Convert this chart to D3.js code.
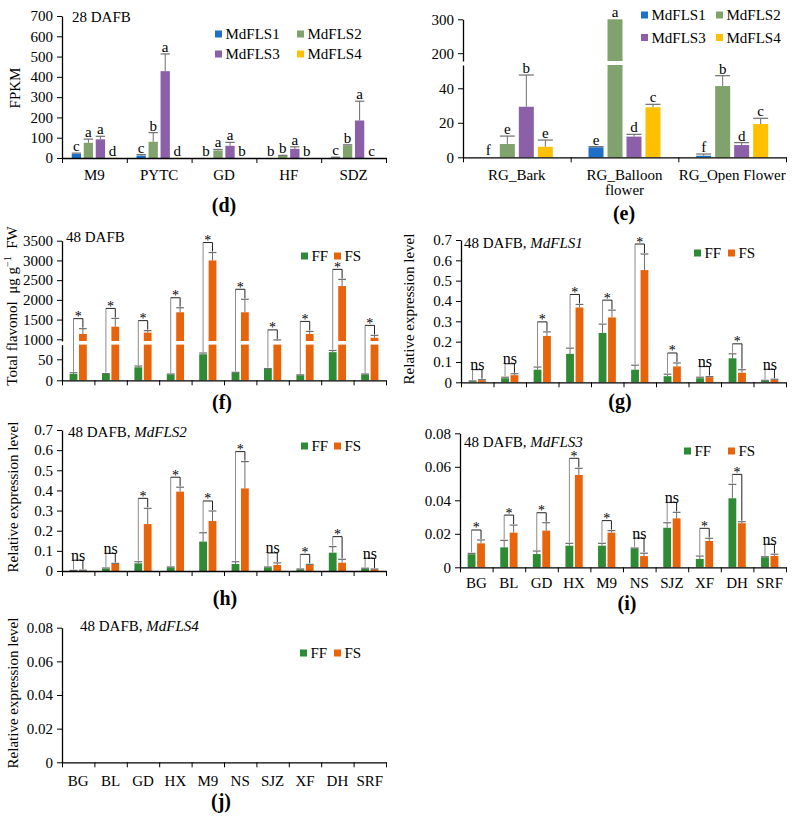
<!DOCTYPE html>
<html>
<head>
<meta charset="utf-8">
<script src="https://cdn.jsdelivr.net/npm/d3@7"></script>
<style>
  body { margin: 0; background: #fff; }
  text { white-space: pre; }
</style>
</head>
<body>
<div id="canvas"></div>
<script>
"use strict"

/* Configuration variables: drawing */
let svgWidth = 793;
let svgHeight = 817;
let font = "'Liberation Serif', 'Times New Roman', serif";

/* ---------- Data ---------- */
let flsNames = ["MdFLS1", "MdFLS2", "MdFLS3", "MdFLS4"];
let flsColors = ["#1e6fc8", "#80a26c", "#8b60a8", "#ffc000"];
let fruitKeys = ["FF", "FS"];
let fruitColors = ["#2e8a34", "#e8640c"];

/* (d) 28 DAFB, FPKM */
let dCats = ["M9", "PYTC", "GD", "HF", "SDZ"];
let dFLS1 = [20, 12, 0, 0, 3];
let dFLS2 = [75, 80, 37, 10, 62];
let dFLS3 = [92, 428, 60, 45, 185];
let dFLS4 = [1, 1, 0, 0, 0];
let dErr1 = [4, 5, 0, 0, 1];
let dErr2 = [18, 45, 5, 3, 3];
let dErr3 = [15, 85, 17, 10, 95];
let dErr4 = [0, 0, 0, 0, 0];
let dLet1 = ["c", "c", "b", "b", "c"];
let dLet2 = ["a", "b", "a", "b", "b"];
let dLet3 = ["a", "a", "a", "a", "a"];
let dLet4 = ["d", "d", "b", "b", "c"];
let dTicks = [0, 100, 200, 300, 400, 500, 600, 700];

/* (e) RG tissues, FPKM (broken axis) */
let eCats = ["RG_Bark", "RG_Balloon flower", "RG_Open Flower"];
let eFLS1 = [0, 5.8, 0.9];
let eFLS2 = [7.7, 300, 41.3];
let eFLS3 = [29.3, 12, 7.1];
let eFLS4 = [6.1, 29, 19.3];
let eErr1 = [0, 0.4, 1];
let eErr2 = [4.6, 0, 6];
let eErr3 = [18.4, 1.3, 1.4];
let eErr4 = [3.9, 1.7, 3.3];
let eLet1 = ["f", "e", "f"];
let eLet2 = ["e", "a", "b"];
let eLet3 = ["b", "d", "d"];
let eLet4 = ["e", "c", "c"];
let eTicks = [0, 20, 40, 200, 300];

/* 48 DAFB cultivars */
let cats10 = ["BG", "BL", "GD", "HX", "M9", "NS", "SJZ", "XF", "DH", "SRF"];

/* (f) total flavonol (broken axis) */
let fFF = [15, 15, 31, 14, 62, 18, 27, 12, 67, 14];
let fFFerr = [3, 1, 3, 1, 3, 1, 1, 1, 4, 1];
let fFS = [1135, 1320, 1170, 1685, 3000, 1685, 900, 1135, 2350, 1040];
let fFSerr = [135, 210, 50, 115, 200, 330, 85, 65, 170, 60];
let fSig = ["*", "*", "*", "*", "*", "*", "*", "*", "*", "*"];
let fTicks = [0, 50, 1000, 1500, 2000, 2500, 3000, 3500];

/* (g) MdFLS1 */
let gFF = [0.005, 0.02, 0.062, 0.14, 0.243, 0.062, 0.03, 0.02, 0.118, 0.008];
let gFFerr = [0.002, 0.005, 0.013, 0.028, 0.043, 0.022, 0.01, 0.005, 0.022, 0.002];
let gFS = [0.01, 0.035, 0.228, 0.368, 0.319, 0.552, 0.078, 0.025, 0.047, 0.012];
let gFSerr = [0.003, 0.007, 0.02, 0.015, 0.036, 0.079, 0.017, 0.003, 0.015, 0.003];
let gSig = ["ns", "ns", "*", "*", "*", "*", "*", "ns", "*", "ns"];

/* (h) MdFLS2 */
let hFF = [0.002, 0.012, 0.038, 0.018, 0.146, 0.035, 0.018, 0.008, 0.091, 0.012];
let hFFerr = [0.001, 0.003, 0.008, 0.002, 0.044, 0.011, 0.002, 0.002, 0.03, 0.002];
let hFS = [0.003, 0.035, 0.233, 0.394, 0.248, 0.41, 0.03, 0.03, 0.041, 0.008];
let hFSerr = [0.001, 0.003, 0.078, 0.022, 0.05, 0.133, 0.01, 0.003, 0.017, 0.002];
let hSig = ["ns", "ns", "*", "*", "*", "*", "ns", "*", "*", "ns"];
let relTicks1 = [0, 0.1, 0.2, 0.3, 0.4, 0.5, 0.6, 0.7];

/* (i) MdFLS3 */
let iFF = [0.0078, 0.0119, 0.0079, 0.0129, 0.0129, 0.0113, 0.0236, 0.005, 0.0412, 0.006];
let iFFerr = [0.0005, 0.0042, 0.0018, 0.0014, 0.0014, 0.0002, 0.003, 0.0017, 0.0083, 0.0003];
let iFS = [0.0143, 0.0207, 0.0219, 0.0551, 0.0207, 0.0067, 0.0292, 0.0157, 0.0263, 0.0068];
let iFSerr = [0.002, 0.0045, 0.0047, 0.004, 0.0012, 0.0017, 0.0036, 0.0016, 0.0009, 0.001];
let iSig = ["*", "*", "*", "*", "*", "ns", "ns", "*", "*", "ns"];
let relTicks2 = [0, 0.02, 0.04, 0.06, 0.08];

/* (j) MdFLS4: no expression detected, empty chart */
let jFF = [];
let jFS = [];

/* ---------- Canvas ---------- */
let svg = d3.select("#canvas")
    .append("svg")
    .attr("width", svgWidth)
    .attr("height", svgHeight)
    .attr("font-family", font);

svg.append("rect")
    .attr("width", svgWidth)
    .attr("height", svgHeight)
    .attr("fill", "white");

/* value -> pixel on a (possibly broken) axis made of segments */
function valY(segs, v) {
    let y = segs[0](0);
    segs.forEach(function (s) {
        let d = s.domain();
        if (v >= d[0]) y = s(Math.min(v, d[1]));
    });
    return y;
}

/* pixel pieces covering values a..b, one per segment */
function pieces(segs, a, b) {
    let out = [];
    segs.forEach(function (s) {
        let d = s.domain();
        let lo = Math.max(a, d[0]), hi = Math.min(b, d[1]);
        if (hi > lo) out.push([s(lo), s(hi)]);
    });
    return out;
}

function wrapLabels(sel, width) {
    sel.each(function () {
        let t = d3.select(this);
        let words = t.text().split(" ");
        if (this.getComputedTextLength() <= width) return;
        let lines = [], line = [];
        let node = this;
        words.forEach(function (w) {
            line.push(w);
            t.text(line.join(" "));
            if (node.getComputedTextLength() > width && line.length > 1) {
                line.pop();
                lines.push(line.join(" "));
                line = [w];
            }
        });
        lines.push(line.join(" "));
        let dy = t.attr("dy");
        t.text(null);
        lines.forEach(function (l, i) {
            t.append("tspan").attr("x", 0).attr("dy", i ? "1.0em" : dy).text(l);
        });
    });
}

/* Generic grouped bar panel */
function drawPanel(p) {
    let g = svg.append("g");
    let yBase = p.segs[0](0);

    let xBand = d3.scaleBand().domain(p.cats).range([p.x0, p.x1]);
    let xSub = d3.scaleBand().domain(p.keys)
        .range([0, xBand.bandwidth()])
        .paddingInner(p.padIn)
        .paddingOuter(p.padOut);
    let bw = xSub.bandwidth();

    let bars = [];
    p.series.forEach(function (s, si) {
        s.vals.forEach(function (v, ci) {
            bars.push({
                cat: p.cats[ci], ci: ci, key: p.keys[si],
                v: v, e: s.errs[ci], color: s.color,
                letter: s.letters ? s.letters[ci] : null
            });
        });
    });
    bars.forEach(function (b) {
        b.x = xBand(b.cat) + xSub(b.key);
        b.cx = b.x + bw / 2;
        b.top = valY(p.segs, b.v + b.e);
    });

    /* bars (split across axis break) */
    let rects = [];
    bars.forEach(function (b) {
        pieces(p.segs, 0, b.v).forEach(function (pc) {
            rects.push({x: b.x, y0: pc[0], y1: pc[1], color: b.color});
        });
    });
    g.selectAll("rect.bar")
        .data(rects)
        .join("rect")
        .attr("class", "bar")
        .attr("x", d => d.x)
        .attr("y", d => d.y1)
        .attr("width", bw)
        .attr("height", d => Math.max(0, d.y0 - d.y1))
        .attr("fill", d => d.color);

    /* error bars */
    let errColor = "#6e6e6e";
    bars.filter(b => b.e > 0).forEach(function (b) {
        pieces(p.segs, b.v, b.v + b.e).forEach(function (pc) {
            g.append("line")
                .attr("x1", b.cx).attr("x2", b.cx)
                .attr("y1", pc[0]).attr("y2", pc[1])
                .attr("stroke", errColor).attr("stroke-width", 1);
        });
        g.append("line")
            .attr("x1", b.x).attr("x2", b.x + bw)
            .attr("y1", b.top).attr("y2", b.top)
            .attr("stroke", errColor).attr("stroke-width", 1.2);
    });

    /* letters over bars */
    g.selectAll("text.letter")
        .data(bars.filter(b => b.letter))
        .join("text")
        .attr("class", "letter")
        .attr("x", d => d.cx)
        .attr("y", d => d.top - 2)
        .attr("text-anchor", "middle")
        .attr("font-size", 15)
        .attr("fill", "#000")
        .text(d => d.letter);

    /* significance brackets */
    if (p.sig) {
        p.cats.forEach(function (c, ci) {
            let a = bars.find(b => b.ci === ci && b.key === p.keys[0]);
            let b2 = bars.find(b => b.ci === ci && b.key === p.keys[1]);
            let top = Math.min(a.top, b2.top) - 10;
            g.append("path")
                .attr("d", `M${a.cx},${a.top - 1}V${top}`)
                .attr("fill", "none").attr("stroke", "#8c8c8c").attr("stroke-width", 1);
            g.append("path")
                .attr("d", `M${a.cx},${top}H${b2.cx}V${b2.top - 1}`)
                .attr("fill", "none").attr("stroke", "#222").attr("stroke-width", 1);
            let mid = (a.cx + b2.cx) / 2;
            if (p.sig[ci] === "ns") {
                g.append("text").attr("x", mid).attr("y", top + 0.5)
                    .attr("text-anchor", "middle").attr("font-size", 16)
                    .attr("fill", "#000").text("ns");
            } else {
                g.append("text").attr("x", mid).attr("y", top + 2.5)
                    .attr("text-anchor", "middle").attr("font-size", 14)
                    .attr("fill", "#000").text("*");
            }
        });
    }

    /* y axis (one piece per segment) */
    p.segs.forEach(function (s) {
        let d = s.domain();
        let ax = g.append("g")
            .attr("transform", `translate(${p.x0},0)`)
            .call(d3.axisLeft(s)
                .tickValues(p.ticks.filter(t => t >= d[0] - 1e-9 && t <= d[1] + 1e-9))
                .tickSize(5)
                .tickSizeOuter(0)
                .tickPadding(4)
                .tickFormat(p.fmt));
        ax.attr("font-family", font).attr("font-size", 15);
        ax.selectAll("text").attr("fill", "black");
        ax.selectAll("line").attr("stroke", "black");
        ax.select(".domain").attr("stroke", "black").attr("stroke-width", 1.3);
    });

    /* x axis: tick marks between categories */
    let xLin = d3.scaleLinear().domain([0, p.cats.length]).range([p.x0, p.x1]);
    let xa = g.append("g")
        .attr("transform", `translate(0,${yBase})`)
        .call(d3.axisBottom(xLin)
            .tickValues(d3.range(p.cats.length + 1))
            .tickSize(5)
            .tickSizeOuter(0)
            .tickFormat(""));
    xa.selectAll("line").attr("stroke", "black");
    xa.select(".domain").attr("stroke", "black").attr("stroke-width", 1.3);

    /* category labels */
    if (p.labPad !== undefined) {
        let xl = g.append("g")
            .attr("transform", `translate(0,${yBase})`)
            .call(d3.axisBottom(xBand).tickSize(0).tickPadding(p.labPad));
        xl.select(".domain").remove();
        xl.attr("font-family", font).attr("font-size", 15);
        xl.selectAll("text").attr("fill", "black").call(wrapLabels, 110);
    }
    return g;
}

function legendItem(x, y, color, label) {
    svg.append("rect")
        .attr("x", x).attr("y", y - 3.5)
        .attr("width", 7).attr("height", 7)
        .attr("fill", color);
    svg.append("text")
        .attr("x", x + 10.5).attr("y", y + 5)
        .attr("font-size", 15)
        .text(label);
}

function title(x, y, gene) {
    let t = svg.append("text").attr("x", x).attr("y", y).attr("font-size", 15);
    t.append("tspan").text(gene ? "48 DAFB, " : "48 DAFB");
    if (gene) t.append("tspan").attr("font-style", "italic").text(gene);
}

function yTitle(x, y, label) {
    return svg.append("text")
        .attr("transform", `translate(${x},${y}) rotate(-90)`)
        .attr("text-anchor", "middle")
        .attr("dominant-baseline", "central")
        .attr("font-size", 15)
        .text(label);
}

function panelLetter(x, y, s) {
    svg.append("text")
        .attr("x", x).attr("y", y)
        .attr("text-anchor", "middle")
        .attr("font-size", 20)
        .attr("font-weight", "bold")
        .text(s);
}

let fmtInt = d3.format("d");
let fmt1 = v => v === 0 ? "0" : d3.format(".1f")(v);
let fmt2 = v => v === 0 ? "0" : d3.format(".2f")(v);

/* ---------- (d) ---------- */
drawPanel({
    x0: 62, x1: 386,
    segs: [d3.scaleLinear().domain([0, 700]).range([158, 16])],
    cats: dCats, keys: flsNames,
    series: [
        {vals: dFLS1, errs: dErr1, letters: dLet1, color: flsColors[0]},
        {vals: dFLS2, errs: dErr2, letters: dLet2, color: flsColors[1]},
        {vals: dFLS3, errs: dErr3, letters: dLet3, color: flsColors[2]},
        {vals: dFLS4, errs: dErr4, letters: dLet4, color: flsColors[3]}
    ],
    padIn: 0.225, padOut: 0.81,
    ticks: dTicks, fmt: fmtInt, labPad: 11
});
svg.append("text").attr("x", 72).attr("y", 22).attr("font-size", 15).text("28 DAFB");
yTitle(15, 88, "FPKM");
legendItem(215, 34, flsColors[0], flsNames[0]);
legendItem(297, 34, flsColors[1], flsNames[1]);
legendItem(215, 54, flsColors[2], flsNames[2]);
legendItem(297, 54, flsColors[3], flsNames[3]);
panelLetter(224, 212, "(d)");

/* ---------- (e) ---------- */
drawPanel({
    x0: 463, x1: 786,
    segs: [d3.scaleLinear().domain([0, 53.5]).range([157.3, 65]),
           d3.scaleLinear().domain([177, 300]).range([61, 19.3])],
    cats: eCats, keys: flsNames,
    series: [
        {vals: eFLS1, errs: eErr1, letters: eLet1, color: flsColors[0]},
        {vals: eFLS2, errs: eErr2, letters: eLet2, color: flsColors[1]},
        {vals: eFLS3, errs: eErr3, letters: eLet3, color: flsColors[2]},
        {vals: eFLS4, errs: eErr4, letters: eLet4, color: flsColors[3]}
    ],
    padIn: 0.21, padOut: 0.94,
    ticks: eTicks, fmt: fmtInt, labPad: 12
});
legendItem(641, 15, flsColors[0], flsNames[0]);
legendItem(716, 15, flsColors[1], flsNames[1]);
legendItem(641, 37.5, flsColors[2], flsNames[2]);
legendItem(716, 37.5, flsColors[3], flsNames[3]);
panelLetter(624, 220, "(e)");

/* ---------- (f) ---------- */
drawPanel({
    x0: 62, x1: 386,
    segs: [d3.scaleLinear().domain([0, 85]).range([380.3, 344.6]),
           d3.scaleLinear().domain([957, 3500]).range([341, 240.7])],
    cats: cats10, keys: fruitKeys,
    series: [
        {vals: fFF, errs: fFFerr, color: fruitColors[0]},
        {vals: fFS, errs: fFSerr, color: fruitColors[1]}
    ],
    sig: fSig,
    padIn: 0.17, padOut: 0.81,
    ticks: fTicks, fmt: fmtInt
});
title(66, 242, null);
let fy = svg.append("text")
    .attr("transform", "translate(12,306) rotate(-90)")
    .attr("text-anchor", "middle")
    .attr("dominant-baseline", "central")
    .attr("font-size", 15);
fy.append("tspan").text("Total flavonol  μg g");
fy.append("tspan").attr("font-size", 10).attr("dy", -5).text("−1");
fy.append("tspan").attr("dy", 5).text("  FW");
legendItem(301, 256, fruitColors[0], "FF");
legendItem(334, 256, fruitColors[1], "FS");
panelLetter(222, 409, "(f)");

/* ---------- (g) ---------- */
drawPanel({
    x0: 461, x1: 786,
    segs: [d3.scaleLinear().domain([0, 0.7]).range([382.3, 240])],
    cats: cats10, keys: fruitKeys,
    series: [
        {vals: gFF, errs: gFFerr, color: fruitColors[0]},
        {vals: gFS, errs: gFSerr, color: fruitColors[1]}
    ],
    sig: gSig,
    padIn: 0.17, padOut: 0.81,
    ticks: relTicks1, fmt: fmt1
});
title(464, 248, "MdFLS1");
yTitle(409, 309, "Relative expression level");
legendItem(694, 253, fruitColors[0], "FF");
legendItem(728, 253, fruitColors[1], "FS");
panelLetter(620, 408, "(g)");

/* ---------- (h) ---------- */
drawPanel({
    x0: 62, x1: 386,
    segs: [d3.scaleLinear().domain([0, 0.7]).range([571, 430])],
    cats: cats10, keys: fruitKeys,
    series: [
        {vals: hFF, errs: hFFerr, color: fruitColors[0]},
        {vals: hFS, errs: hFSerr, color: fruitColors[1]}
    ],
    sig: hSig,
    padIn: 0.17, padOut: 0.81,
    ticks: relTicks1, fmt: fmt1
});
title(68, 437, "MdFLS2");
yTitle(13, 497, "Relative expression level");
legendItem(301, 446, fruitColors[0], "FF");
legendItem(334, 446, fruitColors[1], "FS");
panelLetter(225, 605, "(h)");

/* ---------- (i) ---------- */
drawPanel({
    x0: 460, x1: 786,
    segs: [d3.scaleLinear().domain([0, 0.08]).range([567.3, 433.3])],
    cats: cats10, keys: fruitKeys,
    series: [
        {vals: iFF, errs: iFFerr, color: fruitColors[0]},
        {vals: iFS, errs: iFSerr, color: fruitColors[1]}
    ],
    sig: iSig,
    padIn: 0.17, padOut: 0.81,
    ticks: relTicks2, fmt: fmt2, labPad: 10
});
title(464, 447, "MdFLS3");
legendItem(684, 451, fruitColors[0], "FF");
legendItem(728, 451, fruitColors[1], "FS");
panelLetter(627, 610, "(i)");

/* ---------- (j) ---------- */
drawPanel({
    x0: 62, x1: 386,
    segs: [d3.scaleLinear().domain([0, 0.08]).range([762.3, 627.7])],
    cats: cats10, keys: fruitKeys,
    series: [
        {vals: jFF, errs: [], color: fruitColors[0]},
        {vals: jFS, errs: [], color: fruitColors[1]}
    ],
    padIn: 0.17, padOut: 0.81,
    ticks: relTicks2, fmt: fmt2, labPad: 13
});
title(80, 631, "MdFLS4");
yTitle(13, 693, "Relative expression level");
legendItem(300, 653, fruitColors[0], "FF");
legendItem(334, 653, fruitColors[1], "FS");
panelLetter(221, 808, "(j)");
</script>
</body>
</html>
